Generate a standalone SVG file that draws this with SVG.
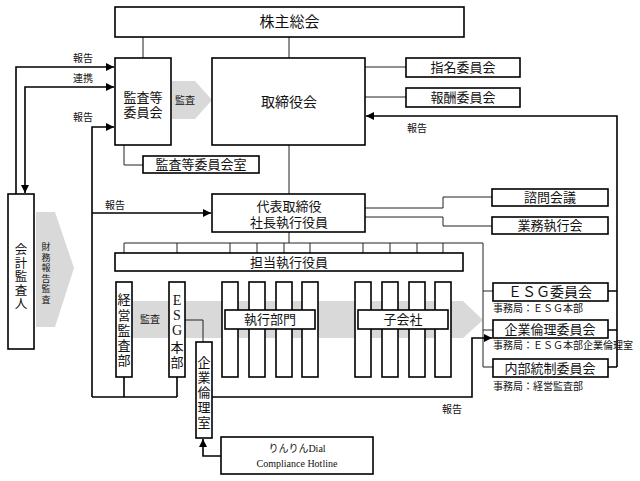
<svg xmlns="http://www.w3.org/2000/svg" width="640" height="481" viewBox="0 0 640 481">
<style>
.bx{fill:#fff;stroke:#000;stroke-width:1.6}
.ln{fill:none;stroke:#222;stroke-width:1}
.ar{fill:none;stroke:#000;stroke-width:1.6}
.gr{fill:#d9d9d9;stroke:none}
text{font-family:"Liberation Serif","Noto Sans CJK JP",serif;fill:#111;text-anchor:middle}
.s15{font-size:15px}.s13{font-size:13px}.s14{font-size:14px}.s10{font-size:10px}.s9{font-size:9px}.s125{font-size:12.5px}
.l{text-anchor:start}
</style>
<defs>
<marker id="ah" viewBox="0 0 10 10" refX="10" refY="5" markerWidth="9" markerHeight="8" markerUnits="userSpaceOnUse" orient="auto-start-reverse"><path d="M0,0 L10,5 L0,10 z" fill="#000"/></marker>
</defs>
<rect width="640" height="481" fill="#fff"/>
<g id="flows">
<polygon class="gr" points="172,81 195,81 212,100 195,119 172,119"/>
<text class="s10" x="185" y="104">監査</text>
<polygon class="gr" points="36,212 55,212 74,268 55,327 36,327"/>
<text class="s9"><tspan x="46" y="250">財</tspan><tspan x="46" y="260.5">務</tspan><tspan x="46" y="271">報</tspan><tspan x="46" y="281.5">告</tspan><tspan x="46" y="292">監</tspan><tspan x="46" y="302.5">査</tspan></text>
<polygon class="gr" points="132,301 463,301 483,320 463,338 132,338"/>
<text class="s10" x="150" y="323">監査</text>
</g>
<g id="connectors">
<path class="ln" d="M143,37V58M289,37V58"/>
<path class="ln" d="M365,67H406M365,97H406"/>
<path class="ln" d="M124,145V165H143"/>
<path class="ln" d="M289,145V194"/>
<path class="ln" d="M365,208H443V197H492M365,217H443V226H492"/>
<path class="ln" d="M289,232V243M124,243H483V367M124,243V253M177,243V253M230,243V253M257,243V253M284,243V253M310,243V253M363,243V253M390,243V253M417,243V253M443,243V253"/>
<path class="ln" d="M483,291H493M483,330H493M483,367H493"/>
<path class="ln" d="M185,320H203V342"/>
<path class="ar" d="M608,291H617M608,330H617M608,367H617"/>
<path class="ar" d="M617,367V116H366" marker-end="url(#ah)"/>
<path class="ar" d="M16,194V67H114" marker-end="url(#ah)"/>
<path class="ar" d="M25,193V87H114" marker-start="url(#ah)" marker-end="url(#ah)"/>
<path class="ar" d="M92,397V127H114" marker-end="url(#ah)"/>
<path class="ar" d="M92,213H211" marker-end="url(#ah)"/>
<path class="ar" d="M124,377V397M177,377V397M92,397H177"/>
<path class="ar" d="M212,397H472V338H492" marker-end="url(#ah)"/>
<path class="ar" d="M221,456H203V439" marker-end="url(#ah)"/>
<text class="s10" x="83" y="62">報告</text>
<text class="s10" x="83" y="82">連携</text>
<text class="s10" x="83" y="121">報告</text>
<text class="s10" x="115" y="209">報告</text>
<text class="s10" x="417" y="132">報告</text>
<text class="s10" x="452" y="413">報告</text>
</g>
<g id="kabunushi"><rect class="bx" x="115" y="7" width="349" height="30"/><text class="s15" x="289.5" y="27">株主総会</text></g>
<g id="kansa-iinkai"><rect class="bx" x="115" y="58" width="56" height="87"/><text class="s13" x="143" y="102">監査等</text><text class="s13" x="143" y="117">委員会</text></g>
<g id="torishimariyakukai"><rect class="bx" x="212" y="58" width="153" height="87"/><text class="s14" x="289" y="107">取締役会</text></g>
<g id="shimei"><rect class="bx" x="406" y="58" width="114" height="19"/><text class="s13" x="463" y="72">指名委員会</text></g>
<g id="houshu"><rect class="bx" x="406" y="88" width="114" height="19"/><text class="s13" x="463" y="102">報酬委員会</text></g>
<g id="kansa-shitsu"><rect class="bx" x="143" y="156" width="116" height="17"/><text class="s13" x="201" y="169">監査等委員会室</text></g>
<g id="daihyo"><rect class="bx" x="212" y="194" width="153" height="38"/><text class="s13" x="289" y="211">代表取締役</text><text class="s13" x="289" y="227">社長執行役員</text></g>
<g id="shimon"><rect class="bx" x="492" y="189" width="116" height="17"/><text class="s13" x="550" y="202">諮問会議</text></g>
<g id="gyomu"><rect class="bx" x="492" y="217" width="116" height="17"/><text class="s13" x="550" y="230">業務執行会</text></g>
<g id="tanto"><rect class="bx" x="115" y="253" width="348" height="18"/><text class="s13" x="289" y="267">担当執行役員</text></g>
<g id="kaikei"><rect class="bx" x="8" y="194" width="26" height="155"/><text class="s125"><tspan x="21" y="254">会</tspan><tspan x="21" y="267.5">計</tspan><tspan x="21" y="281">監</tspan><tspan x="21" y="294.5">査</tspan><tspan x="21" y="308">人</tspan></text></g>
<g id="keiei-kansabu"><rect class="bx" x="116" y="282" width="16" height="95"/><text class="s13"><tspan x="124" y="304">経</tspan><tspan x="124" y="320">営</tspan><tspan x="124" y="335">監</tspan><tspan x="124" y="350">査</tspan><tspan x="124" y="365">部</tspan></text></g>
<g id="esg-honbu"><rect class="bx" x="169" y="282" width="16" height="95"/><text class="s14"><tspan x="177" y="305">E</tspan><tspan x="177" y="320">S</tspan><tspan x="177" y="335">G</tspan></text><text class="s13"><tspan x="177" y="352">本</tspan><tspan x="177" y="367">部</tspan></text></g>
<g id="shikko-bumon">
<rect class="bx" x="222" y="282" width="16" height="95"/><rect class="bx" x="249" y="282" width="16" height="95"/><rect class="bx" x="276" y="282" width="16" height="95"/><rect class="bx" x="302" y="282" width="16" height="95"/>
<rect class="bx" x="225" y="310" width="90" height="19"/><text class="s13" x="270" y="324">執行部門</text>
</g>
<g id="kogaisha">
<rect class="bx" x="355" y="282" width="16" height="95"/><rect class="bx" x="382" y="282" width="16" height="95"/><rect class="bx" x="409" y="282" width="16" height="95"/><rect class="bx" x="435" y="282" width="16" height="95"/>
<rect class="bx" x="358" y="310" width="90" height="19"/><text class="s13" x="403" y="324">子会社</text>
</g>
<g id="kigyo-rinri-shitsu"><rect class="bx" x="196" y="342" width="16" height="96"/><text class="s13"><tspan x="204" y="367">企</tspan><tspan x="204" y="382">業</tspan><tspan x="204" y="397">倫</tspan><tspan x="204" y="412">理</tspan><tspan x="204" y="427">室</tspan></text></g>
<g id="hotline"><rect class="bx" x="221" y="437" width="152" height="37"/><text class="s10" x="297" y="452">りんりんDial</text><text class="s10" x="297" y="467">Compliance Hotline</text></g>
<g id="esg-iinkai"><rect class="bx" x="493" y="283" width="115" height="18"/><text class="s14" x="550" y="297">ＥＳＧ委員会</text><text class="s10 l" x="493" y="312">事務局：ＥＳＧ本部</text></g>
<g id="kigyo-rinri-iinkai"><rect class="bx" x="493" y="320" width="115" height="18"/><text class="s13" x="550" y="334">企業倫理委員会</text><text class="s10 l" x="493" y="349">事務局：ＥＳＧ本部企業倫理室</text></g>
<g id="naibu-tosei"><rect class="bx" x="493" y="359" width="115" height="18"/><text class="s13" x="550" y="373">内部統制委員会</text><text class="s10 l" x="493" y="390">事務局：経営監査部</text></g>
</svg>
